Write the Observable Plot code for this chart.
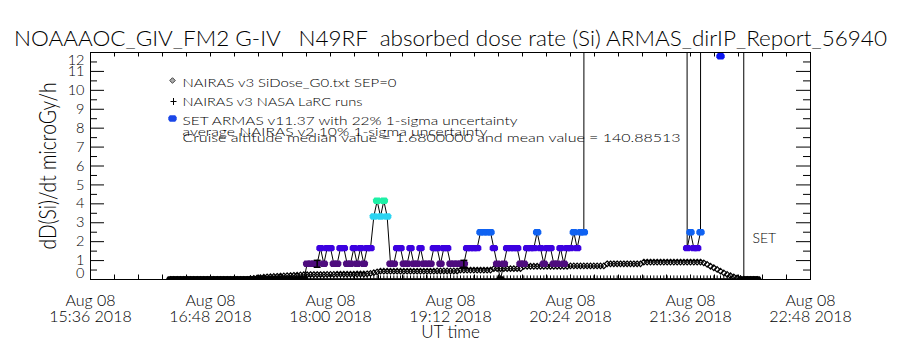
<!DOCTYPE html>
<html><head><meta charset="utf-8">
<script src="https://cdn.jsdelivr.net/npm/d3@7"></script>
<script src="https://cdn.jsdelivr.net/npm/@observablehq/plot@0.6"></script>
<style>body{margin:0;background:#fff}</style>
</head><body><div id="chart"></div>
<script>
// ---------- texts ----------
const titleText = "NOAAAOC_GIV_FM2 G-IV   N49RF  absorbed dose rate (Si) ARMAS_dirIP_Report_56940";
const yLabel = "dD(Si)/dt microGy/h";
const xLabel = "UT time";
const setLabel = "SET";
const legendLabels = [
  "NAIRAS v3 SiDose_G0.txt SEP=0",
  "NAIRAS v3 NASA LaRC runs",
  "SET ARMAS v11.37 with 22% 1-sigma uncertainty",
  "average NAIRAS v2 10% 1-sigma uncertainty",
  "Cruise altitude median value = 1.6800000 and mean value = 140.88513"
];
// ---------- axes ----------
const xTickTimes = ["2018-08-08T15:36Z","2018-08-08T16:48Z","2018-08-08T18:00Z","2018-08-08T19:12Z","2018-08-08T20:24Z","2018-08-08T21:36Z","2018-08-08T22:48Z"];
const xTickDates = ["Aug 08","Aug 08","Aug 08","Aug 08","Aug 08","Aug 08","Aug 08"];
const xTickLabels = ["15:36 2018","16:48 2018","18:00 2018","19:12 2018","20:24 2018","21:36 2018","22:48 2018"];
const yTicks = [0,1,2,3,4,5,6,7,8,9,10,11,12];
// ---------- data (2-minute samples from 16:24 UT) ----------
const sampleStart = "2018-08-08T16:24Z";
const sampleStepMin = 2;
const armasDose = [
  0,0,0,0,0,0,0,0,0,0,
  0,0,0,0,0,0,0,0,0,0,
  0,0,0,0,0,0,0,0,0,0,
  0,0,0,0,0,0,0,0,0,0,
  0,0.83,0.83,0.83,0.83,1.66,0.83,1.66,1.66,0.83,
  0.83,1.66,1.66,0.83,0.83,1.66,0.83,1.66,0.83,1.66,
  1.66,3.33,4.16,3.33,4.16,3.33,0.83,0.83,1.66,1.66,
  0.83,0.83,1.66,0.83,0.83,1.66,0.83,0.83,0.83,1.66,
  1.66,0.83,1.66,1.66,0.83,0.83,0.83,0.83,0.83,1.66,
  1.66,1.66,1.66,2.5,2.5,2.5,2.5,1.66,0.83,0,
  0.83,1.66,1.66,1.66,1.66,0.83,0.83,1.66,1.66,1.66,
  2.5,1.66,0.83,1.66,1.66,0.83,0.83,1.66,0.83,1.66,
  1.66,2.5,1.66,2.5,2.5,410,520,380,610,450,
  560,430,590,480,620,350,510,470,540,400,
  580,440,600,390,530,460,570,420,500,610,
  380,550,490,520,440,1.66,2.5,1.66,1.66,2.5,
  470,590,430,560,510,11.8,480,620,400,540,
  450,500,0,0,0,0,0
];
const nairasG0 = [
  0,0,0,0,0,0,0,0,0,0,
  0,0,0,0,0,0,0,0,0,0,
  0,0,0,0,0.04,0.06,0.08,0.1,0.12,0.14,
  0.15,0.16,0.17,0.18,0.19,0.2,0.21,0.22,0.23,0.24,
  0.25,0.25,0.26,0.26,0.26,0.26,0.26,0.27,0.27,0.27,
  0.28,0.28,0.28,0.28,0.28,0.28,0.29,0.29,0.29,0.3,
  0.32,0.36,0.4,0.44,0.44,0.44,0.44,0.44,0.44,0.44,
  0.44,0.44,0.44,0.44,0.44,0.44,0.44,0.44,0.44,0.44,
  0.45,0.45,0.45,0.45,0.45,0.45,0.45,0.5,0.5,0.5,
  0.5,0.5,0.5,0.5,0.5,0.5,0.5,0.57,0.57,0.57,
  0.57,0.57,0.57,0.57,0.57,0.57,0.7,0.7,0.7,0.7,
  0.7,0.7,0.7,0.7,0.7,0.7,0.7,0.7,0.7,0.7,
  0.72,0.72,0.72,0.72,0.72,0.72,0.72,0.72,0.72,0.72,
  0.72,0.83,0.83,0.83,0.83,0.83,0.83,0.83,0.83,0.83,
  0.83,0.83,0.92,0.92,0.92,0.92,0.92,0.92,0.92,0.92,
  0.92,0.92,0.92,0.92,0.92,0.92,0.92,0.92,0.92,0.92,
  0.88,0.8,0.7,0.62,0.53,0.44,0.35,0.27,0.2,0.14,
  0.08,0.04,0.02,0,0,0,0
];
const nairasLaRC = [
  0,0,0,0,0,0,0,0,0,0,
  0,0,0,0,0,0,0,0,0,0,
  0,0,0,0,0.03,0.03,0.03,0.03,0.03,0.03,
  0.03,0.03,0.03,0.03,0.03,0.03,0.03,0.03,0.03,0.03,
  0.03,0.03,0.03,0.03,0.03,0.03,0.03,0.03,0.03,0.03,
  0.03,0.03,0.03,0.03,0.03,0.03,0.03,0.03,0.03,0.03,
  0.03,0.03,0.03,0.03,0.03,0.03,0.03,0.03,0.03,0.03,
  0.03,0.03,0.03,0.03,0.03,0.03,0.03,0.03,0.03,0.03,
  0.03,0.03,0.03,0.03,0.03,0.03,0.03,0.03,0.03,0.03,
  0.03,0.03,0.03,0.03,0.03,0.03,0.03,0.03,0.03,0.03,
  0.03,0.03,0.03,0.03,0.03,0.03,0.03,0.03,0.03,0.03,
  0.03,0.03,0.03,0.03,0.03,0.03,0.03,0.03,0.03,0.03,
  0.03,0.03,0.03,0.03,0.03,0.03,0.03,0.03,0.03,0.03,
  0.03,0.03,0.03,0.03,0.03,0.03,0.03,0.03,0.03,0.03,
  0.03,0.03,0.03,0.03,0.03,0.03,0.03,0.03,0.03,0.03,
  0.03,0.03,0.03,0.03,0.03,0.03,0.03,0.03,0.03,0.03,
  0.03,0.03,0.03,0.03,0.03,0.03,0.03,0.03,0.03,0.03,
  0.03,0.03,0,0,0,0,0
];
const uncertaintyIdx = [44, 88];
const armasUncertainty = 0.22;
const doseColorBreaks = [0.4, 1.25, 2.1, 2.9, 3.75, 8];
const doseColors = ["#000000","#4e0c7e","#3c00e0","#0f62f2","#2ad4f2","#1ef0a6","#0a14f0"];

// ---------- build ----------
const FONT = "Lato, 'DejaVu Sans', sans-serif";
const W = 900, H = 350, ML = 90, MR = 90, MT = 52, MB = 71;
const FW = W - ML - MR, FH = H - MT - MB;
const t0 = new Date(sampleStart);
const tAt = i => new Date(+t0 + i * sampleStepMin * 60000);
const armas = armasDose.map((v, i) => ({t: tAt(i), v}));
const g0 = nairasG0.map((v, i) => ({t: tAt(i), v}));
const larc = nairasLaRC.map((v, i) => ({t: tAt(i), v}));
const errs = uncertaintyIdx.map(i => armas[i]);
const xTicks = xTickTimes.map(s => new Date(s));
const xStart = xTicks[0], xEnd = xTicks[xTicks.length - 1];
const xMinor = d3.range(0, 31).map(k => new Date(+xStart + k * (xEnd - xStart) / 30));
const yMinor = d3.range(0.5, 12, 1);

const armasSym = {draw(c){c.moveTo(-4.2,-1.3);c.lineTo(-2.7,-3.2);c.lineTo(2.7,-3.2);c.lineTo(4.2,-1.3);c.lineTo(4.2,1.3);c.lineTo(2.7,3.2);c.lineTo(-2.7,3.2);c.lineTo(-4.2,1.3);c.closePath();}};
const diamondSym = {draw(c){c.moveTo(0,-2.8);c.lineTo(2.8,0);c.lineTo(0,2.8);c.lineTo(-2.8,0);c.closePath();}};
const plusSym = {draw(c){c.moveTo(-3,0);c.lineTo(3,0);c.moveTo(0,-3.5);c.lineTo(0,3.5);}};
const capSym = {draw(c){c.moveTo(-3.5,0);c.lineTo(3.5,0);}};

const T = (data, o) => Plot.text(data, {text: d => d, fontFamily: FONT, fontWeight: 300, fill: "black", ...o});
const ix = xTicks.map((d, i) => i);

const svg = Plot.plot({
  width: W, height: H,
  marginLeft: ML, marginRight: MR, marginTop: MT, marginBottom: MB,
  style: {fontFamily: FONT, background: "white", overflow: "visible"},
  x: {type: "utc", domain: [xStart, xEnd], axis: null},
  y: {domain: [0, 12], axis: null},
  color: {type: "threshold", domain: doseColorBreaks, range: doseColors},
  marks: [
    Plot.dot(larc, {x: "t", y: "v", symbol: plusSym, stroke: "black", fill: "none", strokeWidth: 1, clip: true}),
    Plot.dot(g0, {x: "t", y: "v", symbol: diamondSym, stroke: "black", fill: "none", strokeWidth: 1.2, clip: true}),
    Plot.line(armas, {x: "t", y: "v", stroke: "black", strokeWidth: 1, clip: true}),
    Plot.dot(armas, {x: "t", y: "v", symbol: armasSym, fill: "v", stroke: "none", clip: true}),
    Plot.ruleX(errs, {x: "t", y1: d => d.v * (1 - armasUncertainty), y2: d => d.v * (1 + armasUncertainty), stroke: "black", strokeWidth: 1.5}),
    Plot.dot(errs, {x: "t", y: d => d.v * (1 + armasUncertainty), symbol: capSym, stroke: "black", strokeWidth: 1.5}),
    Plot.dot(errs, {x: "t", y: d => d.v * (1 - armasUncertainty), symbol: capSym, stroke: "black", strokeWidth: 1.5}),
    // frame and inward ticks
    Plot.frame({stroke: "black", strokeWidth: 1}),
    Plot.tickY(yTicks, {y: d => d, insetRight: FW - 14, stroke: "black"}),
    Plot.tickY(yTicks, {y: d => d, insetLeft: FW - 14, stroke: "black"}),
    Plot.tickY(yMinor, {y: d => d, insetRight: FW - 7, stroke: "black"}),
    Plot.tickY(yMinor, {y: d => d, insetLeft: FW - 7, stroke: "black"}),
    Plot.tickX(xMinor, {x: d => d, insetBottom: FH - 4.5, stroke: "black"}),
    Plot.tickX(xMinor, {x: d => d, insetTop: FH - 4.5, stroke: "black"}),
    // y tick labels
    T(yTicks.filter(d => d > 0 && d < 12), {y: d => d, text: d => String(d), frameAnchor: "left", textAnchor: "end", dx: -6, fontSize: 14.5}),
    T([12], {y: d => d, text: d => String(d), frameAnchor: "left", textAnchor: "end", dx: -6, dy: 8, fontSize: 14.5}),
    T([0], {y: d => d, text: d => String(d), frameAnchor: "left", textAnchor: "end", dx: -6, dy: -6.5, fontSize: 14.5}),
    // x tick labels
    T(ix, {x: i => xTicks[i], text: i => xTickDates[i], frameAnchor: "bottom", lineAnchor: "bottom", dy: 26, fontSize: 16}),
    T(ix, {x: i => xTicks[i], text: i => xTickLabels[i], frameAnchor: "bottom", lineAnchor: "bottom", dy: 42, fontSize: 16}),
    T([xLabel], {frameAnchor: "bottom", lineAnchor: "bottom", dy: 58, fontSize: 17}),
    T([yLabel], {frameAnchor: "left", textAnchor: "middle", lineAnchor: "bottom", rotate: -90, dx: -35, fontSize: 23}),
    T([titleText], {frameAnchor: "top", textAnchor: "middle", lineAnchor: "bottom", dy: -7, fontSize: 22}),
    // legend
    Plot.dot([0], {frameAnchor: "top-left", dx: 82, dy: 28, symbol: diamondSym, stroke: "#444", fill: "#aaa", strokeWidth: 1}),
    Plot.dot([0], {frameAnchor: "top-left", dx: 83, dy: 49, symbol: plusSym, stroke: "black", fill: "none", strokeWidth: 1}),
    Plot.dot([0], {frameAnchor: "top-left", dx: 82, dy: 66, symbol: armasSym, fill: "#1a46e8", stroke: "none"}),
    T([legendLabels[0]], {frameAnchor: "top-left", textAnchor: "start", lineAnchor: "bottom", dx: 92, dy: 34, fontSize: 12}),
    T([legendLabels[1]], {frameAnchor: "top-left", textAnchor: "start", lineAnchor: "bottom", dx: 92, dy: 53, fontSize: 12}),
    T([legendLabels[2]], {frameAnchor: "top-left", textAnchor: "start", lineAnchor: "bottom", dx: 92, dy: 72, fontSize: 12}),
    T([legendLabels[3]], {frameAnchor: "top-left", textAnchor: "start", lineAnchor: "bottom", dx: 92, dy: 83, fontSize: 12}),
    T([legendLabels[4]], {frameAnchor: "top-left", textAnchor: "start", lineAnchor: "bottom", dx: 92, dy: 89, fontSize: 12}),
    T([setLabel], {frameAnchor: "bottom-right", textAnchor: "start", lineAnchor: "bottom", dx: -58, dy: -37, fontSize: 14})
  ]
});
svg.style.whiteSpace = "pre";
const fit = new Map([
  [titleText, 873], [yLabel, 167],
  [legendLabels[0], 214], [legendLabels[1], 180], [legendLabels[2], 335], [legendLabels[3], 305], [legendLabels[4], 498]
]);
svg.querySelectorAll("text").forEach(t => {
  const w = fit.get(t.textContent);
  if (w) { t.setAttribute("textLength", w); t.setAttribute("lengthAdjust", "spacingAndGlyphs"); }
});
document.getElementById("chart").appendChild(svg);
</script>
</body></html>
